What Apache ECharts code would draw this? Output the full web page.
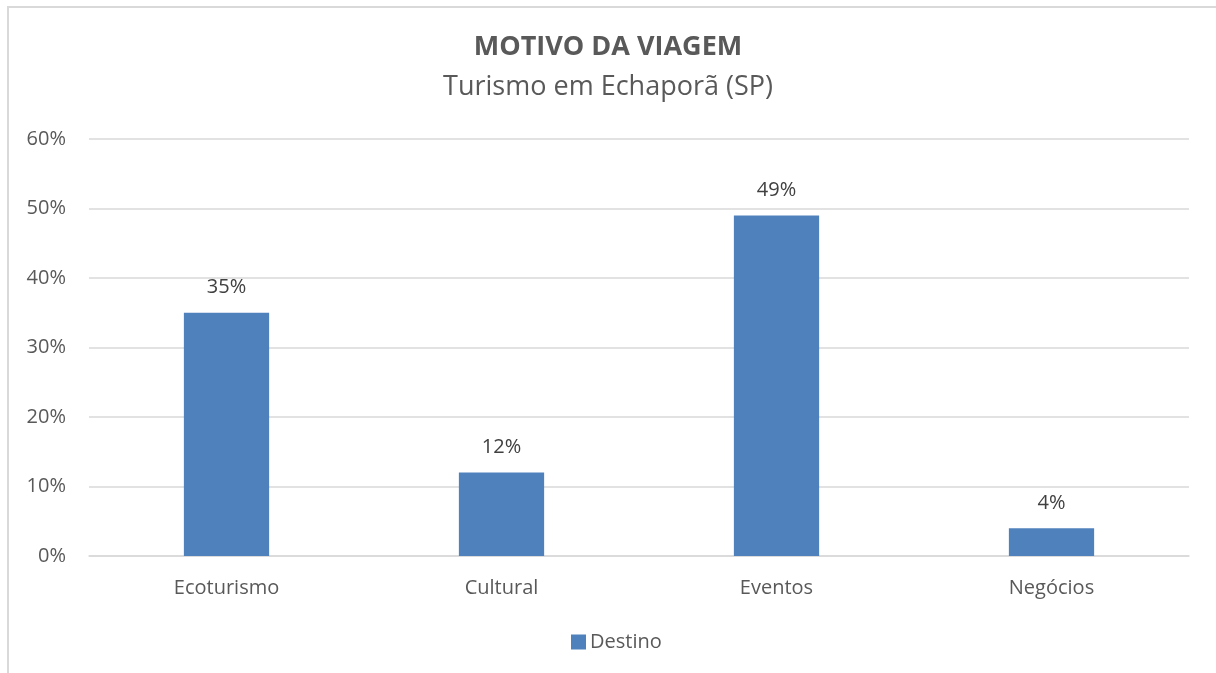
<!DOCTYPE html>
<html>
<head>
<meta charset="utf-8">
<script src="https://cdn.jsdelivr.net/npm/echarts@6/dist/echarts.min.js"></script>
<style>
  html, body { margin: 0; padding: 0; background: #fff; }
  #frame { position: absolute; left: 7px; top: 6px; width: 1300px; height: 800px;
           border-top: 2px solid #d9d9d9; border-left: 2px solid #d9d9d9; }
  #main { position: absolute; left: 0; top: 0; width: 1216px; height: 673px; }
</style>
</head>
<body>
<div id="frame"></div>
<div id="main"></div>
<script>
const categories = ['Ecoturismo', 'Cultural', 'Eventos', 'Negócios']
const destino = [35, 12, 49, 4]
const yTicks = [0, 10, 20, 30, 40, 50, 60]

const font = '"Open Sans", "Noto Sans", sans-serif'
let myChart = echarts.init(document.getElementById('main'))
myChart.setOption({
  animation: false,
  title: [
    {
      text: 'MOTIVO DA VIAGEM',
      left: 'center',
      top: 29,
      textStyle: { fontFamily: font, fontSize: 27, fontWeight: 'bold', color: '#595959' }
    },
    {
      text: 'Turismo em Echaporã (SP)',
      left: 'center',
      top: 69,
      textStyle: { fontFamily: font, fontSize: 27, fontWeight: 'normal', color: '#595959' }
    }
  ],
  legend: {
    bottom: 16,
    left: 566,
    itemWidth: 15,
    itemHeight: 15,
    itemGap: 8,
    icon: 'rect',
    textStyle: { fontFamily: font, fontSize: 20, color: '#595959', padding: [0, 0, 0, -1] },
    data: ['Destino']
  },
  grid: { left: 89, right: 27, top: 139, bottom: 117 },
  xAxis: {
    type: 'category',
    data: categories,
    axisLine: { lineStyle: { color: '#d9d9d9', width: 1.5 } },
    axisTick: { show: false },
    axisLabel: { margin: 22, fontFamily: font, fontSize: 20, color: '#595959' }
  },
  yAxis: {
    type: 'value',
    min: yTicks[0],
    max: yTicks[yTicks.length - 1],
    interval: 10,
    axisLine: { show: false },
    axisTick: { show: false },
    splitLine: { lineStyle: { color: '#d9d9d9', width: 1.5 } },
    axisLabel: { margin: 23, fontFamily: font, fontSize: 20, color: '#595959', formatter: '{value}%' }
  },
  series: [
    {
      name: 'Destino',
      type: 'bar',
      barWidth: '31%',
      color: '#4f81bd',
      label: {
        show: true,
        position: 'top',
        distance: 15,
        formatter: '{c}%',
        fontFamily: font,
        fontSize: 20,
        color: '#404040'
      },
      data: destino
    }
  ]
})
</script>
</body>
</html>
